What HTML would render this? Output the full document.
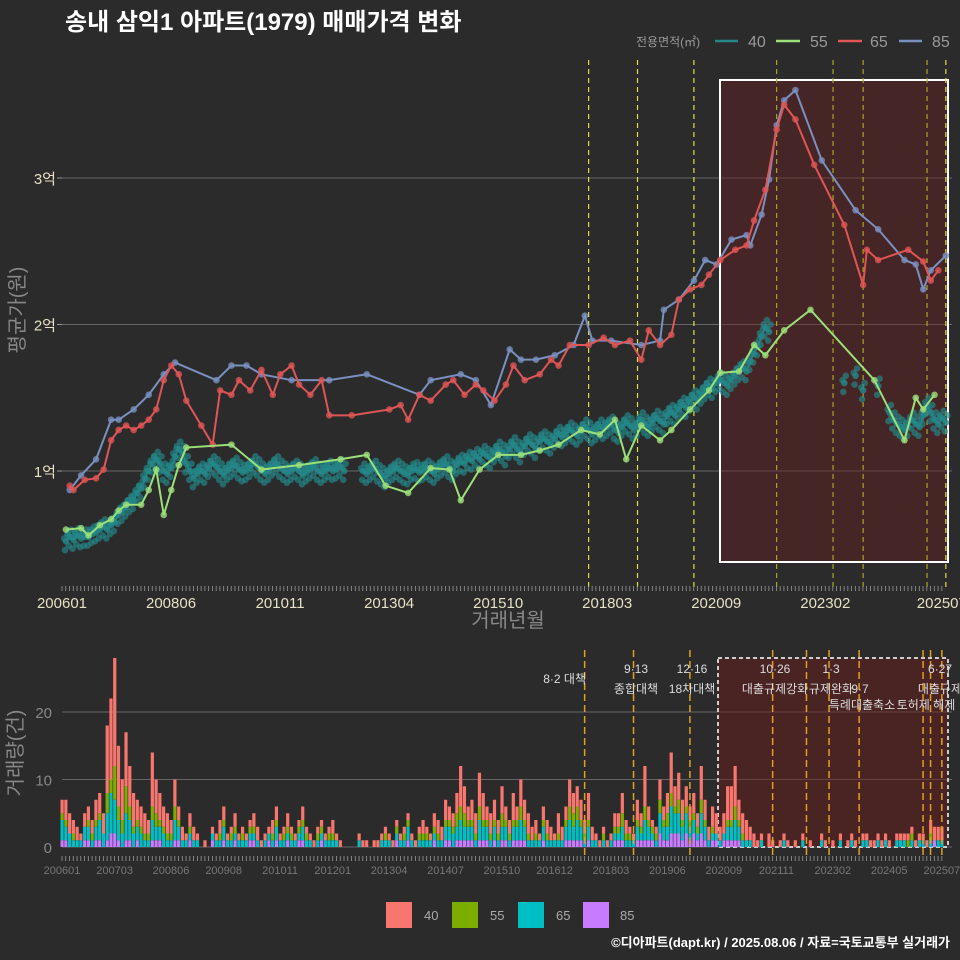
<!DOCTYPE html>
<html><head><meta charset="utf-8">
<style>
html,body{margin:0;padding:0;background:#2b2b2b;}
svg{display:block;font-family:"Liberation Sans","Noto Sans CJK KR",sans-serif;}
</style></head>
<body>
<svg id="chart" width="960" height="960" viewBox="0 0 960 960" xmlns="http://www.w3.org/2000/svg">
<rect x="0" y="0" width="960" height="960" fill="#2b2b2b"/>
<text x="65" y="30" fill="#ffffff" font-size="24" font-weight="bold">송내 삼익1 아파트(1979) 매매가격 변화</text>
<g id="legendTop">
<text x="636" y="46" fill="#999" font-size="12">전용면적(㎡)</text>
<line x1="715" y1="41" x2="738" y2="41" stroke="#24888a" stroke-width="2.5"/>
<text x="748" y="47" fill="#999" font-size="16">40</text>
<line x1="776" y1="41" x2="800" y2="41" stroke="#9ce07a" stroke-width="2.5"/>
<text x="810" y="47" fill="#999" font-size="16">55</text>
<line x1="838" y1="41" x2="862" y2="41" stroke="#e05555" stroke-width="2.5"/>
<text x="870" y="47" fill="#999" font-size="16">65</text>
<line x1="899" y1="41" x2="922" y2="41" stroke="#7a90c0" stroke-width="2.5"/>
<text x="932" y="47" fill="#999" font-size="16">85</text>
</g>
<g id="topPanel"></g>
<g id="botPanel"></g>
<text transform="translate(24,310) rotate(-90)" text-anchor="middle" fill="#888" font-size="20">평균가(원)</text>
<text x="508" y="627" text-anchor="middle" fill="#888" font-size="20">거래년월</text>
<text transform="translate(22,753) rotate(-90)" text-anchor="middle" fill="#888" font-size="20">거래량(건)</text>
<g>
<rect x="386" y="902" width="26" height="26" fill="#F8766D"/>
<text x="424" y="920" fill="#aaa" font-size="13">40</text>
<rect x="452" y="902" width="26" height="26" fill="#7CAE00"/>
<text x="490" y="920" fill="#aaa" font-size="13">55</text>
<rect x="518" y="902" width="26" height="26" fill="#00BFC4"/>
<text x="556" y="920" fill="#aaa" font-size="13">65</text>
<rect x="583" y="902" width="26" height="26" fill="#C77CFF"/>
<text x="620" y="920" fill="#aaa" font-size="13">85</text>
</g>
<text x="950" y="947" text-anchor="end" fill="#fff" font-size="13" font-weight="bold">©디아파트(dapt.kr) / 2025.08.06 / 자료=국토교통부 실거래가</text>
</svg>
<script>
const NS="http://www.w3.org/2000/svg";
const p40=[0.52,0.55,0.53,0.56,0.54,0.55,0.55,0.57,0.58,0.60,0.62,0.60,0.63,0.65,0.70,0.72,0.75,0.78,0.80,0.85,0.88,0.95,1.00,1.05,1.08,1.05,1.00,0.98,1.02,1.10,1.15,1.12,1.05,1.00,0.95,0.98,
1.00,0.98,1.02,1.05,1.03,1.00,0.97,1.00,1.02,1.04,1.01,0.99,1.00,1.02,1.05,1.03,1.00,0.98,1.00,1.03,1.05,1.02,1.00,0.98,1.00,1.02,1.00,0.97,0.99,1.01,1.03,1.00,0.98,1.00,1.02,1.00,
1.01,1.03,1.00,null,null,null,null,1.00,0.98,1.00,1.02,0.99,0.97,0.95,0.98,1.00,1.02,1.00,0.98,0.97,1.00,1.01,0.99,1.00,1.02,1.00,0.98,1.01,1.03,1.05,1.02,1.00,1.04,1.06,1.05,1.08,
1.07,1.10,1.08,1.12,1.10,1.08,1.12,1.15,1.13,1.10,1.15,1.18,1.15,1.12,1.17,1.20,1.18,1.15,1.20,1.22,1.20,1.18,1.22,1.25,1.23,1.25,1.28,1.26,1.24,1.27,1.30,1.28,1.25,1.27,1.30,1.28,
1.30,1.32,1.28,1.26,1.30,1.33,1.31,1.28,1.30,1.35,1.32,1.30,1.33,1.36,1.34,1.32,1.38,1.40,1.38,1.42,1.45,1.43,1.47,1.50,1.48,1.52,1.55,1.58,1.56,1.60,1.62,1.60,1.58,1.62,1.65,1.68,
1.70,1.68,1.75,1.80,1.85,1.92,1.98,1.95,null,null,null,null,null,null,null,null,null,null,null,null,null,null,null,null,null,null,null,1.60,null,null,1.65,null,1.55,null,null,null,
1.58,null,null,1.40,1.35,1.32,1.30,1.28,1.30,1.35,1.32,1.30,1.38,1.45,1.40,1.35,1.32,1.36,1.33];
const m55=[0,4,6,9,12,14,16,20,22,24,26,28,30,32,44,52,62,73,80,85,91,97,102,105,110,115,121,126,131,137,142,146,149,153,158,161,166,171,174,179,183,186,191,198,215,223,226,228,231];
const p55=[0.60,0.61,0.56,0.63,0.67,0.73,0.77,0.77,0.87,1.01,0.70,0.87,1.04,1.16,1.18,1.01,1.04,1.08,1.11,0.90,0.85,1.02,1.01,0.80,1.01,1.11,1.11,1.14,1.18,1.28,1.25,1.35,1.08,1.31,1.21,1.28,1.42,1.55,1.67,1.68,1.86,1.79,1.96,2.10,1.62,1.21,1.50,1.42,1.52];
const m65=[1,2,5,8,10,12,14,16,18,20,22,24,26,28,30,32,36,39,41,44,46,49,52,55,57,60,62,65,68,70,76,86,89,91,94,97,101,103,106,109,111,114,117,119,122,126,129,131,134,139,143,146,150,153,155,158,161,163,166,169,171,174,178,181,183,186,189,191,194,199,207,212,213,216,224,228,230,232];
const p65=[0.90,0.87,0.94,0.95,1.01,1.21,1.28,1.31,1.28,1.31,1.35,1.42,1.62,1.72,1.66,1.48,1.31,1.18,1.55,1.52,1.62,1.55,1.69,1.52,1.66,1.72,1.59,1.52,1.62,1.38,1.38,1.42,1.45,1.35,1.52,1.48,1.59,1.62,1.52,1.59,1.55,1.48,1.59,1.72,1.62,1.66,1.76,1.72,1.86,1.86,1.91,1.86,1.89,1.76,1.96,1.86,1.93,2.17,2.24,2.27,2.34,2.44,2.51,2.54,2.71,2.92,3.33,3.50,3.40,3.09,2.68,2.27,2.51,2.44,2.51,2.43,2.30,2.37];
const m85=[1,4,8,12,14,18,22,26,29,40,44,48,52,60,70,80,94,97,105,109,113,118,121,125,130,135,138,140,145,153,158,159,163,167,170,173,177,181,182,185,187,189,191,194,201,210,216,223,226,228,230,234];
const p85=[0.87,0.97,1.08,1.35,1.35,1.42,1.52,1.66,1.74,1.62,1.72,1.72,1.66,1.62,1.62,1.66,1.52,1.62,1.66,1.62,1.45,1.83,1.76,1.76,1.79,1.86,2.06,1.89,1.89,1.86,1.89,2.10,2.17,2.30,2.44,2.41,2.58,2.61,2.54,2.75,2.99,3.36,3.53,3.60,3.12,2.78,2.65,2.44,2.41,2.24,2.37,2.47];
const yTicks=[1,2,3];
const yTickLabels=["1억","2억","3억"];
const xTickMonths=[0,29,58,87,116,145,174,203,234];
const xTickLabels=["200601","200806","201011","201304","201510","201803","202009","202302","202507"];
const v40=[2,3,3,2,2,1,2,2,2,3,3,3,10,12,16,9,6,8,6,5,3,3,3,2,8,5,4,3,3,2,4,2,2,1,2,2,1,0,1,0,1,1,2,2,1,1,2,1,1,1,1,2,2,1,1,1,2,2,1,1,2,1,1,1,2,1,1,1,1,1,1,1,2,1,1,0,0,0,0,1,1,1,0,1,1,1,1,1,1,1,1,1,1,1,1,1,2,1,1,2,2,2,3,2,2,3,6,4,2,3,3,5,4,2,3,3,2,4,2,2,4,2,4,3,3,2,2,1,2,2,2,1,3,2,2,4,3,3,3,2,4,2,1,1,1,1,1,2,2,3,2,1,1,3,2,6,2,1,1,3,2,3,6,3,4,3,3,2,3,2,5,3,2,3,3,2,3,5,5,6,3,3,3,2,2,1,1,0,2,1,0,1,1,1,0,1,0,1,0,1,0,0,1,1,0,1,0,1,0,1,1,1,0,1,1,1,1,1,1,1,1,0,1,1,1,1,1,1,1,1,1,2,2,2,2];
const v55=[1,1,0,1,0,0,0,1,1,1,1,0,3,2,5,2,2,4,2,1,1,1,1,1,2,2,1,1,1,1,2,1,0,0,1,0,0,0,0,0,0,0,1,1,0,1,1,0,1,0,1,1,0,0,0,0,1,1,0,1,1,1,0,1,1,1,0,0,1,1,0,1,1,0,0,0,0,0,0,0,0,0,0,0,0,0,1,0,0,1,0,1,1,0,0,1,1,1,0,1,1,0,1,1,1,2,2,2,1,1,1,2,1,1,1,1,1,2,1,1,1,1,2,1,1,0,1,0,1,1,0,0,1,0,1,2,2,2,1,1,1,0,0,0,1,0,0,1,1,2,1,1,0,1,1,2,1,1,1,2,1,2,2,1,2,1,1,1,1,1,2,1,0,1,0,0,0,1,1,2,1,1,0,0,0,0,0,0,0,0,0,0,0,0,0,0,0,0,0,0,0,0,0,0,0,0,0,0,0,0,0,0,0,0,0,0,0,0,0,0,0,0,0,0,0,1,1,0,0,0,0,1,0,0,0,0,0];
const v65=[3,2,2,1,1,1,2,2,1,2,3,2,4,6,5,3,2,4,3,2,2,2,1,1,3,2,2,2,1,1,3,2,1,1,1,1,1,0,0,0,1,1,1,2,1,1,1,1,1,1,1,1,1,0,1,1,1,2,1,1,1,1,1,1,2,1,1,0,1,1,1,1,1,1,0,0,0,0,0,1,0,0,0,0,0,1,1,1,0,1,1,1,2,1,0,1,1,1,1,1,1,1,2,2,2,2,3,2,2,2,1,3,2,2,1,2,1,2,2,1,2,2,3,2,1,1,1,1,2,1,1,1,1,1,2,3,2,3,2,1,2,1,1,0,1,0,1,1,1,2,1,1,1,2,1,3,2,1,1,3,2,2,4,3,3,2,3,2,2,1,3,2,1,1,1,1,1,2,2,3,2,1,1,1,0,0,1,0,0,0,0,0,1,0,0,0,0,1,0,0,0,0,1,0,0,0,0,1,0,0,1,0,0,1,1,0,0,1,0,1,0,0,1,1,1,0,1,0,1,1,0,1,0,1,1];
const v85=[1,1,0,0,0,0,1,1,0,1,1,0,1,2,2,1,0,1,1,0,1,0,0,0,1,1,1,0,0,0,1,1,0,0,1,0,0,0,0,0,1,0,0,1,0,0,1,0,0,0,1,1,0,0,0,1,0,1,0,0,1,0,0,1,1,0,0,0,0,1,0,0,0,0,0,0,0,0,0,0,0,0,0,0,0,0,0,0,0,1,0,0,1,0,0,0,0,0,0,1,0,0,1,1,0,1,1,1,1,1,0,1,1,1,0,1,0,1,1,0,1,1,1,1,0,0,0,0,1,0,0,0,0,0,1,1,1,1,1,0,1,0,0,0,0,0,0,1,1,1,0,0,0,1,1,1,1,1,0,2,1,1,2,2,2,1,2,1,2,1,2,1,0,1,1,0,1,1,1,1,1,0,0,0,0,0,0,0,0,0,0,0,0,0,0,0,0,0,0,0,0,0,0,0,0,0,0,0,0,0,0,0,0,0,0,0,0,0,0,0,0,0,0,0,0,0,0,0,0,0,0,0,1,0,0,0,0,0,0,0,0,0,0,0,0];
const vTicks=[0,10,20];
const bTickMonths=[0,14,29,43,58,72,87,102,117,131,146,161,176,190,205,220,234];
const bTickLabels=["200601","200703","200806","200908","201011","201201","201304","201407","201510","201612","201803","201906","202009","202111","202302","202405","202507"];
const policyMonths=[139,152,167,189,198,204,212,229,231,234];
const policyOnTop=[1,1,1,1,0,1,1,1,0,1];

const X=m=>66+m*3.76;
const Y=v=>471-(v-1)*146.5;
const BX=m=>62+m*3.76;
const BY=c=>847-c*6.75;

function mk(tag,attrs,parent){const e=document.createElementNS(NS,tag);for(const k in attrs)e.setAttribute(k,attrs[k]);parent.appendChild(e);return e;}
const topG=document.getElementById('topPanel');
const botG=document.getElementById('botPanel');
const defs=mk('defs',{},topG);
const cp=mk('clipPath',{id:'cpTop'},defs);mk('rect',{x:60,y:55,width:892,height:533},cp);
const cp2=mk('clipPath',{id:'cpBot'},defs);mk('rect',{x:60,y:640,width:892,height:215},cp2);

yTicks.forEach((v,i)=>{
 const l=mk('line',{x1:62,x2:952,y1:Y(v),y2:Y(v),stroke:'#666','stroke-width':1},topG);
 
 
 const t=mk('text',{x:56,y:Y(v)+6,'text-anchor':'end',fill:'#e6e0c4','font-size':15},topG);t.textContent=yTickLabels[i];
 
 
 mk('line',{x1:57,x2:62,y1:Y(v),y2:Y(v),stroke:'#999'},topG);
});
const hr=mk('rect',{x:X(175)-4,y:80,width:948-X(175)+4,height:482,fill:'#6a1c1c','fill-opacity':0.42,stroke:'#fff','stroke-width':2},topG);


policyMonths.forEach((m,i)=>{
 if(!policyOnTop[i])return;
 const l=mk('line',{x1:X(m),x2:X(m),y1:60,y2:590,stroke:(i>=3&&i<9)?'#a8a820':'#e0e040','stroke-width':1.2,'stroke-dasharray':'5,4'},topG);
 
 
});
for(let m=0;m<=234;m++){
 mk('line',{x1:X(m)-4,x2:X(m)-4,y1:586,y2:591,stroke:'#999','stroke-width':0.8},topG);
 mk('line',{x1:BX(m),x2:BX(m),y1:856,y2:861,stroke:'#999','stroke-width':0.8},botG);
}
xTickMonths.forEach((m,i)=>{
 const t=mk('text',{x:X(m)-4,y:608,'text-anchor':'middle',fill:'#e6e0c4','font-size':15},topG);t.textContent=xTickLabels[i];
 
 
});
const gTop=mk('g',{'clip-path':'url(#cpTop)'},topG);
function series(ms,vs,color,name,lw){
 let d='',broken=true;ms.forEach((m,i)=>{if(vs[i]==null){broken=true;return;}d+=(broken?'M':'L')+X(m)+','+Y(vs[i]);broken=false;});
 vs.forEach((v,i)=>{if(v==null)return;
  const c=mk('circle',{cx:X(ms[i]),cy:Y(v),r:3.3,fill:color,'fill-opacity':0.8},gTop);
  
  
 });
 const p=mk('path',{d:d,fill:'none',stroke:color,'stroke-width':lw},gTop);
 
 
}
const m40=p40.map((v,i)=>i);
p40.forEach((v,i)=>{if(v==null)return;[[-0.06,-1],[0.05,1.5],[0.02,-1.8]].forEach(o=>{
 const c=mk('circle',{cx:X(i)+o[1],cy:Y(v+o[0]),r:3.3,fill:'#24888a','fill-opacity':0.65},gTop);
 
 
});});
series(m40,p40,'#24888a','40',1.5);
series(m85,p85,'#7a90c0','85',2);
series(m65,p65,'#e05555','65',2);
series(m55,p55,'#9ce07a','55',2);

vTicks.forEach(v=>{
 const l=mk('line',{x1:62,x2:952,y1:BY(v),y2:BY(v),stroke:'#666'},botG);
 
 
 const t=mk('text',{x:52,y:BY(v)+6,'text-anchor':'end',fill:'#888','font-size':15},botG);t.textContent=v;
 
 
});
const bhr=mk('rect',{x:BX(175)-2,y:658,width:948-BX(175)+2,height:189,fill:'#6a1c1c','fill-opacity':0.5,stroke:'#ccc','stroke-width':2,'stroke-dasharray':'4,3'},botG);


const gBot=mk('g',{'clip-path':'url(#cpBot)'},botG);
const stack=[[v85,'#C77CFF','85'],[v65,'#00BFC4','65'],[v55,'#7CAE00','55'],[v40,'#F8766D','40']];
for(let m=0;m<v40.length;m++){
 let base=0;
 stack.forEach(([arr,col,nm])=>{const c=arr[m]||0;if(!c)return;
  const r=mk('rect',{x:BX(m)-1.5,y:BY(base+c),width:3.2,height:BY(base)-BY(base+c),fill:col},gBot);
  
  
  base+=c;});
}
policyMonths.forEach(m=>{
 const l=mk('line',{x1:BX(m),x2:BX(m),y1:650,y2:858,stroke:'#e0a020','stroke-width':1.5,'stroke-dasharray':'7,4'},botG);
 
 
});
bTickMonths.forEach((m,i)=>{
 const t=mk('text',{x:BX(m),y:874,'text-anchor':'middle',fill:'#777','font-size':11},botG);t.textContent=bTickLabels[i];
 
 
});
const ann=[[586,683,'8·2 대책','end'],[636,673,'9·13','middle'],[636,693,'종합대책','middle'],[692,673,'12·16','middle'],[692,693,'18차대책','middle'],[775,673,'10·26','middle'],[775,693,'대출규제강화','middle'],[831,673,'1·3','middle'],[831,693,'규제완화','middle'],[860,693,'9·7','middle'],[862,709,'특례대출축소','middle'],[926,709,'토허제 해제','middle'],[940,673,'6·27','middle'],[940,693,'대출규제','middle']];
ann.forEach(a=>{
 const t=mk('text',{x:a[0],y:a[1],'text-anchor':a[3],fill:'#ddd','font-size':12},botG);t.textContent=a[2];
 
 
});
</script>
</body></html>
